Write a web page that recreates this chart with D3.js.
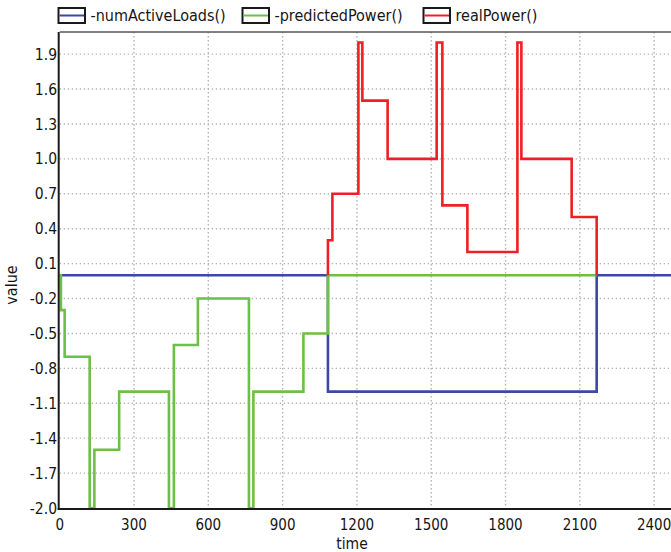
<!DOCTYPE html>
<html>
<head>
<meta charset="utf-8">
<script src="https://cdn.jsdelivr.net/npm/d3@7"></script>
<style>
  html, body { margin: 0; padding: 0; background: #fff; overflow: hidden; }
  svg { display: block; }
  text { font-family: "DejaVu Sans Condensed", "DejaVu Sans", sans-serif; font-stretch: condensed; fill: #151515; }
</style>
</head>
<body>
<svg id="chart" width="671" height="552"></svg>
<script>
// ---- data ----
const seriesNames = ["-numActiveLoads()", "-predictedPower()", "realPower()"];
const seriesColors = ["#3b48a4", "#6cc046", "#ee2025"];

const xTicks = [0, 300, 600, 900, 1200, 1500, 1800, 2100, 2400];
const yTicks = [-2.0, -1.7, -1.4, -1.1, -0.8, -0.5, -0.2, 0.1, 0.4, 0.7, 1.0, 1.3, 1.6, 1.9];
const yTickLabels = ["-2.0", "-1.7", "-1.4", "-1.1", "-0.8", "-0.5", "-0.2", "0.1", "0.4", "0.7", "1.0", "1.3", "1.6", "1.9"];

const activeTimes = [0, 1083, 2168, 2500];
const activeValues = [0, -1.0, 0, 0];

const predictedTimes = [0, 5, 20, 121, 140, 240, 441, 461, 558, 764, 782, 984, 1083, 2168];
const predictedValues = [0, -0.3, -0.7, -2.0, -1.5, -1.0, -2.0, -0.6, -0.2, -2.0, -1.0, -0.5, 0, 0];

const realTimes = [1083, 1083, 1101, 1206, 1222, 1324, 1522, 1545, 1646, 1848, 1864, 2067, 2168];
const realValues = [0, 0.3, 0.7, 2.0, 1.5, 1.0, 2.0, 0.6, 0.2, 2.0, 1.0, 0.5, 0];

// ---- layout ----
const svg = d3.select("#chart");
const xDomain = [0, 2500];
const yDomain = [-2.0, 2.09];
const x = d3.scaleLinear().domain(xDomain).range([59.7, 678.9]);
const y = d3.scaleLinear().domain(yDomain).range([508, 32]);

const plotL = x(0), plotR = x(xDomain[1]), plotT = y(yDomain[1]), plotB = y(yDomain[0]);

// grid
const grid = svg.append("g");
grid.selectAll("line.h").data(yTicks.slice(1)).join("line")
  .attr("x1", plotL).attr("x2", plotR)
  .attr("y1", d => y(d)).attr("y2", d => y(d))
  .attr("stroke", "#b4b4b4").attr("stroke-width", 1.4).attr("stroke-dasharray", "1.4,2.6");
grid.selectAll("line.v").data(xTicks.slice(1)).join("line")
  .attr("x1", d => x(d)).attr("x2", d => x(d))
  .attr("y1", plotT).attr("y2", plotB)
  .attr("stroke", "#b4b4b4").attr("stroke-width", 1.4).attr("stroke-dasharray", "1.4,2.6");

// top & right borders
svg.append("line").attr("x1", plotL).attr("x2", plotR).attr("y1", plotT).attr("y2", plotT)
  .attr("stroke", "#555").attr("stroke-width", 1.5);
svg.append("line").attr("x1", plotR).attr("x2", plotR).attr("y1", plotT).attr("y2", plotB)
  .attr("stroke", "#555").attr("stroke-width", 1.5);

// lines
const line = d3.line().x(d => x(d[0])).y(d => y(d[1])).curve(d3.curveStepAfter);
const series = [
  d3.zip(activeTimes, activeValues),
  d3.zip(predictedTimes, predictedValues),
  d3.zip(realTimes, realValues)
];
svg.append("g").selectAll("path").data(series).join("path")
  .attr("d", line)
  .attr("fill", "none")
  .attr("stroke", (d, i) => seriesColors[i])
  .attr("stroke-width", 2.6)
  .attr("stroke-linejoin", "miter");

// axes lines
svg.append("line").attr("x1", plotL - 1).attr("x2", plotL - 1).attr("y1", plotT).attr("y2", plotB + 2)
  .attr("stroke", "#1a1a1a").attr("stroke-width", 2);
svg.append("line").attr("x1", plotL - 2).attr("x2", plotR).attr("y1", plotB + 1).attr("y2", plotB + 1)
  .attr("stroke", "#1a1a1a").attr("stroke-width", 2);

// y tick labels
svg.append("g").selectAll("text").data(yTicks).join("text")
  .attr("x", 57).attr("y", d => y(d)).attr("dy", "0.36em")
  .attr("text-anchor", "end").attr("font-size", 15.5)
  .text((d, i) => yTickLabels[i]);

// x tick labels
svg.append("g").selectAll("text").data(xTicks).join("text")
  .attr("x", d => x(d)).attr("y", 530)
  .attr("text-anchor", "middle").attr("font-size", 15)
  .text(d => String(d));

// axis titles
svg.append("text").attr("x", 352).attr("y", 549).attr("text-anchor", "middle")
  .attr("font-size", 15.5).text("time");
svg.append("text").attr("transform", "translate(17,285) rotate(-90)").attr("text-anchor", "middle")
  .attr("font-size", 16).text("value");

// legend
const legendX = [58.5, 242.5, 423.5];
const lg = svg.append("g").selectAll("g").data(seriesNames).join("g")
  .attr("transform", (d, i) => `translate(${legendX[i]},8)`);
lg.append("rect").attr("x", 0).attr("y", 0).attr("width", 26.5).attr("height", 15)
  .attr("fill", "#fff").attr("stroke", "#1a1a1a").attr("stroke-width", 2);
lg.append("line").attr("x1", 1).attr("x2", 25.5).attr("y1", 7.5).attr("y2", 7.5)
  .attr("stroke", (d, i) => seriesColors[i]).attr("stroke-width", 2);
lg.append("text").attr("x", 32).attr("y", 13).attr("font-size", 16).text(d => d);
</script>
</body>
</html>
